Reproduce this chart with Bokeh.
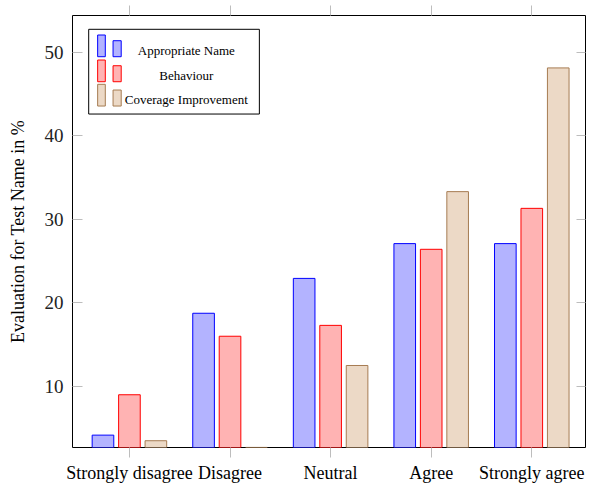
from bokeh.plotting import figure
from bokeh.models import (ColumnDataSource, FixedTicker, LinearAxis, Range1d,
                          BoxAnnotation, Label, CustomLabelingPolicy)
from bokeh.transform import dodge
from bokeh.embed import file_html
from bokeh.resources import INLINE

categories = ["Strongly disagree", "Disagree", "Neutral", "Agree", "Strongly agree"]
appropriate = [4.17, 18.75, 22.92, 27.08, 27.08]
behaviour = [9.0, 16.0, 17.3, 26.4, 31.3]
coverage = [3.5, 2.7, 12.5, 33.3, 48.1]
series_names = ["Appropriate Name", "Behaviour", "Coverage Improvement"]
y_ticks = [10, 20, 30, 40, 50]

FONT = "Liberation Serif"
fills = ["#b3b3ff", "#ffb3b3", "#ecd9c6"]
lines = ["#0000ff", "#ff0000", "#a67c52"]
TICK = "#bdbdbd"

XMIN, XMAX = -0.566, 4.534
YMIN, YMAX = 2.69, 54.37

src = ColumnDataSource(dict(x=list(range(len(categories))),
                            a=appropriate, b=behaviour, c=coverage))

p = figure(width=589, height=485, output_backend="svg", toolbar_location=None,
           x_range=Range1d(XMIN, XMAX), y_range=Range1d(YMIN, YMAX),
           x_axis_location=None, y_axis_location=None,
           min_border_left=72, min_border_right=1, min_border_top=15, min_border_bottom=38)
p.grid.visible = False
p.outline_line_color = "black"
p.outline_line_width = 1
p.background_fill_color = "white"
p.border_fill_color = "white"

offsets = [-0.263, 0.0, 0.263]
for col, off, fc, lc in zip(["a", "b", "c"], offsets, fills, lines):
    p.vbar(x=dodge("x", off), top=col, bottom=0, width=0.215, source=src,
           fill_color=fc, line_color=lc, line_width=1)

xt = FixedTicker(ticks=list(range(len(categories))))
overrides = {i: c for i, c in enumerate(categories)}
no_labels = CustomLabelingPolicy(code="""
const all = [...indices];
for (const i of all) indices.unset(i);
return indices;
""")

def style_axis(ax):
    ax.axis_line_color = None
    ax.major_tick_line_color = TICK
    ax.minor_tick_line_color = None
    ax.major_tick_line_width = 1

bottom = LinearAxis(ticker=xt, major_label_overrides=overrides)
style_axis(bottom)
bottom.major_tick_in = 0
bottom.major_tick_out = 10
bottom.major_label_standoff = 5
bottom.major_label_text_font = FONT
bottom.major_label_text_font_size = "18px"
bottom.major_label_text_color = "black"
p.add_layout(bottom, "below")

top = LinearAxis(ticker=xt, major_label_policy=no_labels)
style_axis(top)
top.major_tick_in = 0
top.major_tick_out = 10
top.major_label_standoff = 0
top.major_label_text_font_size = "1px"
p.add_layout(top, "above")

left = LinearAxis(ticker=FixedTicker(ticks=y_ticks))
style_axis(left)
left.major_tick_in = 10
left.major_tick_out = 0
left.major_label_standoff = 9
left.major_label_text_font = FONT
left.major_label_text_font_size = "19px"
left.major_label_text_color = "#222222"
left.axis_label = "Evaluation for Test Name in %"
left.axis_label_text_font = FONT
left.axis_label_text_font_size = "18px"
left.axis_label_text_font_style = "normal"
left.axis_label_text_color = "black"
left.axis_label_standoff = 14
p.add_layout(left, "left")

right = LinearAxis(ticker=FixedTicker(ticks=y_ticks), major_label_policy=no_labels)
style_axis(right)
right.major_tick_in = 9
right.major_tick_out = 0
right.major_label_standoff = 0
right.major_label_text_font_size = "1px"
p.add_layout(right, "right")

# legend (pgfplots style) drawn as annotations, positioned in pixel offsets from frame
PXU_X = 101.2
PXU_Y = 8.356
def dx(px):
    return XMIN + (px - 72) / PXU_X
def dy(py):
    return YMAX - (py - 15.5) / PXU_Y

p.add_layout(BoxAnnotation(left=dx(88.3), right=dx(260), top=dy(29.3), bottom=dy(114),
                           fill_color="white", fill_alpha=1, line_color="black",
                           line_width=1, line_alpha=1))
row_bottoms = [56.7, 81.7, 106]
for name, fc, lc, rb in zip(series_names, fills, lines, row_bottoms):
    p.add_layout(BoxAnnotation(left=dx(97.3), right=dx(105), top=dy(rb - 21.7), bottom=dy(rb),
                               fill_color=fc, fill_alpha=1, line_color=lc, line_width=1,
                               line_alpha=1))
    p.add_layout(BoxAnnotation(left=dx(112.8), right=dx(121), top=dy(rb - 16), bottom=dy(rb),
                               fill_color=fc, fill_alpha=1, line_color=lc, line_width=1,
                               line_alpha=1))
    p.add_layout(Label(x=dx(186.5), y=dy(rb - 6.5), text=name, text_align="center",
                       text_baseline="alphabetic", text_font=FONT, text_font_size="13px",
                       text_color="black"))

open("out.html", "w").write(file_html(p, INLINE))
